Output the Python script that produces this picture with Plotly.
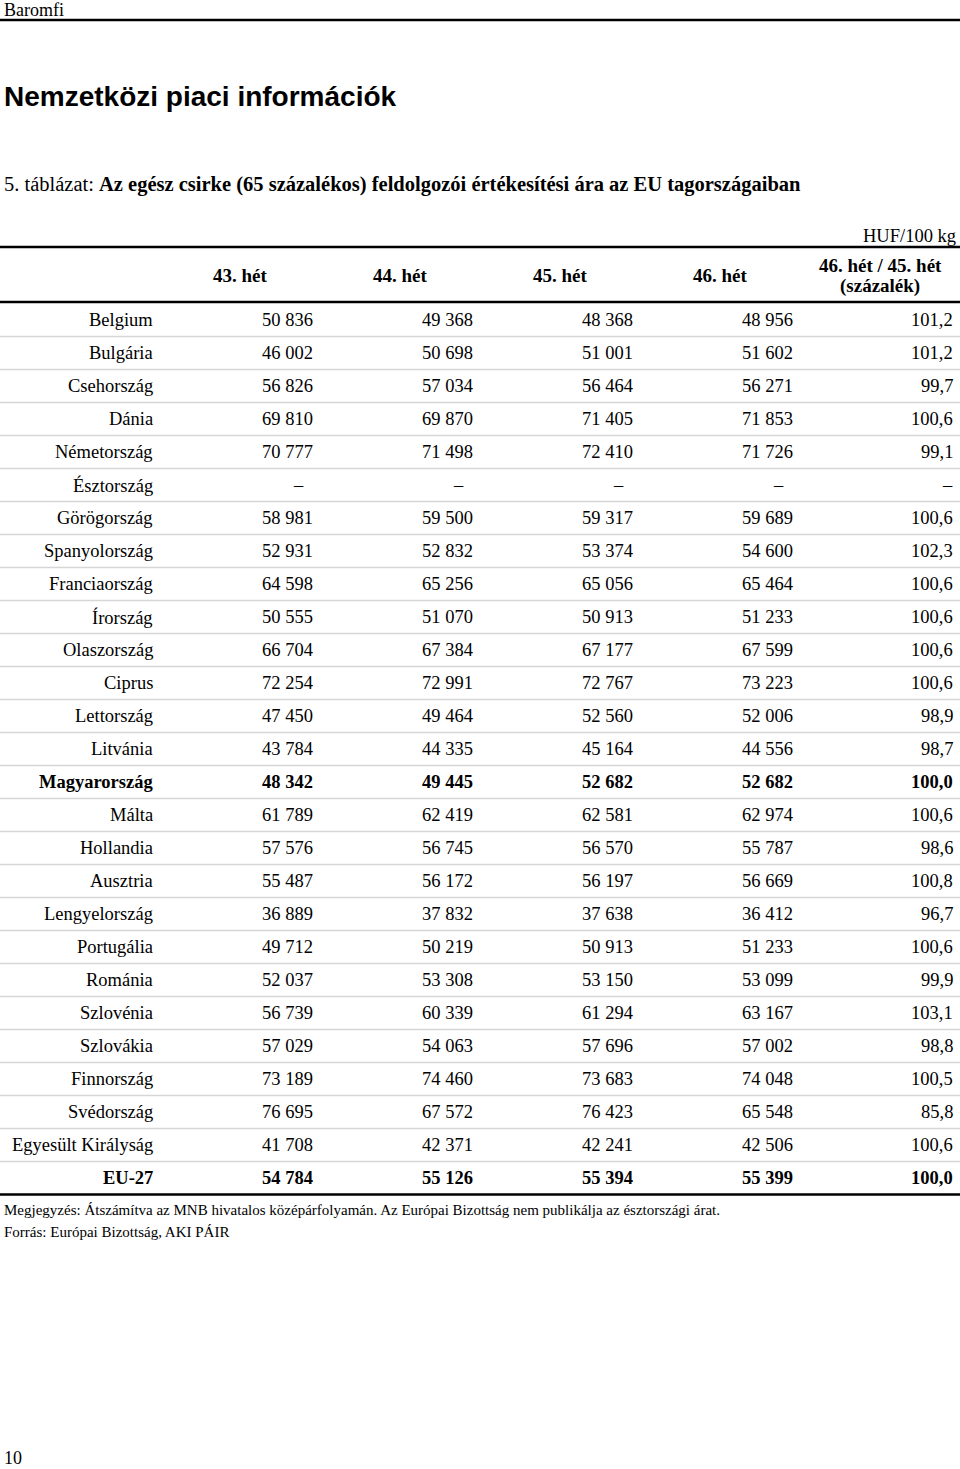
import plotly.graph_objects as go

# ---------------- data ----------------
countries = ["Belgium", "Bulgária", "Csehország", "Dánia", "Németország", "Észtország",
             "Görögország", "Spanyolország", "Franciaország", "Írország", "Olaszország",
             "Ciprus", "Lettország", "Litvánia", "Magyarország", "Málta", "Hollandia",
             "Ausztria", "Lengyelország", "Portugália", "Románia", "Szlovénia",
             "Szlovákia", "Finnország", "Svédország", "Egyesült Királyság", "EU-27"]
week43 = [50836, 46002, 56826, 69810, 70777, None, 58981, 52931, 64598, 50555, 66704,
          72254, 47450, 43784, 48342, 61789, 57576, 55487, 36889, 49712, 52037, 56739,
          57029, 73189, 76695, 41708, 54784]
week44 = [49368, 50698, 57034, 69870, 71498, None, 59500, 52832, 65256, 51070, 67384,
          72991, 49464, 44335, 49445, 62419, 56745, 56172, 37832, 50219, 53308, 60339,
          54063, 74460, 67572, 42371, 55126]
week45 = [48368, 51001, 56464, 71405, 72410, None, 59317, 53374, 65056, 50913, 67177,
          72767, 52560, 45164, 52682, 62581, 56570, 56197, 37638, 50913, 53150, 61294,
          57696, 73683, 76423, 42241, 55394]
week46 = [48956, 51602, 56271, 71853, 71726, None, 59689, 54600, 65464, 51233, 67599,
          73223, 52006, 44556, 52682, 62974, 55787, 56669, 36412, 51233, 53099, 63167,
          57002, 74048, 65548, 42506, 55399]
ratio = [101.2, 101.2, 99.7, 100.6, 99.1, None, 100.6, 102.3, 100.6, 100.6, 100.6,
         100.6, 98.9, 98.7, 100.0, 100.6, 98.6, 100.8, 96.7, 100.6, 99.9, 103.1,
         98.8, 100.5, 85.8, 100.6, 100.0]
bold_rows = ["Magyarország", "EU-27"]
col_headers = ["43. hét", "44. hét", "45. hét", "46. hét"]
ratio_header = ["46. hét / 45. hét", "(százalék)"]

page_section = "Baromfi"
page_title = "Nemzetközi piaci információk"
table_label = "5. táblázat: "
table_title = "Az egész csirke (65 százalékos) feldolgozói értékesítési ára az EU tagországaiban"
unit = "HUF/100 kg"
note = "Megjegyzés: Átszámítva az MNB hivatalos középárfolyamán. Az Európai Bizottság nem publikálja az észtországi árat."
source = "Forrás: Európai Bizottság, AKI PÁIR"
page_no = "10"

# ---------------- helpers ----------------
def fmt_int(v):
    return "–" if v is None else f"{v:,}".replace(",", " ")

def fmt_pct(v):
    return "–" if v is None else f"{v:.1f}".replace(".", ",")

SERIF = "Liberation Serif"
SANS = "Liberation Sans"
FS = 18.5
W, H = 960, 1469
col_w = 160
pad = 5
row0 = 320
row_h = 33
header_top = 247
header_bot = 302

fig = go.Figure()
ann = []
shapes = []

def text(x, y, s, anchor="right", size=FS, family=SERIF, bold=False, xshift=0):
    ann.append(dict(x=x, y=y, xref="x", yref="y", text=(f"<b>{s}</b>" if bold else s),
                    showarrow=False, xanchor=anchor, yanchor="middle", xshift=xshift,
                    font=dict(family=family, size=size, color="black")))

def hline(y, color="black", width=2):
    shapes.append(dict(type="line", xref="x", yref="y", x0=0, x1=W, y0=y, y1=y,
                       line=dict(color=color, width=width)))

# page header
text(2, 10, page_section, anchor="left", size=18)
hline(20, width=2.5)
text(2, 96, f"<b>{page_title}</b>", anchor="left", size=28, family=SANS)
text(2, 184, f"{table_label}<b>{table_title}</b>", anchor="left", size=20.5)
text(W - 2, 236, unit)

# table header
hline(header_top, width=2.5)
hline(header_bot, width=2.5)
for j, h in enumerate(col_headers):
    text(col_w * (j + 1) + col_w / 2, (header_top + header_bot) / 2 + 1, h, anchor="center",
         bold=True, size=19)
text(col_w * 5 + col_w / 2, 265, ratio_header[0], anchor="center", bold=True, size=19)
text(col_w * 5 + col_w / 2, 286, ratio_header[1], anchor="center", bold=True, size=19)

# rows
cols = [week43, week44, week45, week46]
n = len(countries)
for i, c in enumerate(countries):
    y = row0 + row_h * i
    b = c in bold_rows
    text(col_w - pad, y, c, bold=b)
    for j, series in enumerate(cols):
        v = series[i]
        text(col_w * (j + 2) - pad, y, fmt_int(v), bold=b, xshift=(-9 if v is None else 0))
    text(W - pad, y, fmt_pct(ratio[i]), bold=b)
    if i < n - 1:
        hline(y + row_h / 2, color="#d6d6d6", width=1.5)
hline(row0 + row_h * (n - 1) + row_h / 2, width=2.5)

# notes
text(2, 1210, note, anchor="left", size=15)
text(2, 1232, source, anchor="left", size=15)
text(2, 1458, page_no, anchor="left", size=18)

fig.update_layout(
    width=W, height=H, margin=dict(l=0, r=0, t=0, b=0),
    paper_bgcolor="white", plot_bgcolor="white", showlegend=False,
    xaxis=dict(range=[0, W], visible=False, fixedrange=True),
    yaxis=dict(range=[H, 0], visible=False, fixedrange=True),
    annotations=ann, shapes=shapes,
)
fig.write_html("out.html", config={"displayModeBar": False},
               post_script="document.body.style.margin='0px';document.body.style.overflow='hidden';")
